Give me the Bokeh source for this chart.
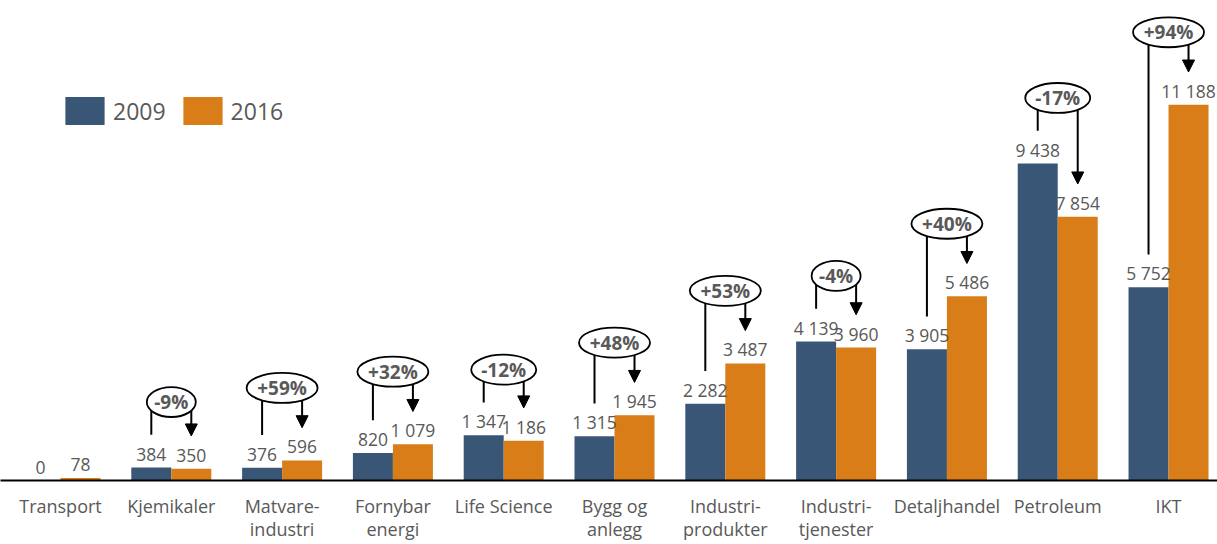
from bokeh.plotting import figure
from bokeh.models import (ColumnDataSource, FixedTicker, Arrow, NormalHead, Legend, LegendItem,
                          Range1d, LabelSet)
from bokeh.embed import file_html
from bokeh.resources import INLINE
from bokeh.core.properties import value

# ---------------- data ----------------
categories = ["Transport", "Kjemikaler", "Matvare-\nindustri", "Fornybar\nenergi", "Life Science",
              "Bygg og\nanlegg", "Industri-\nprodukter", "Industri-\ntjenester", "Detaljhandel",
              "Petroleum", "IKT"]
series = ["2009", "2016"]
values_2009 = [0, 384, 376, 820, 1347, 1315, 2282, 4139, 3905, 9438, 5752]
values_2016 = [78, 350, 596, 1079, 1186, 1945, 3487, 3960, 5486, 7854, 11188]
change_labels = ["", "-9%", "+59%", "+32%", "-12%", "+48%", "+53%", "-4%", "+40%", "-17%", "+94%"]

# ---------------- style ----------------
BLUE = "#3A5676"
ORANGE = "#D87D18"
GREY = "#595959"
FONT = "Open Sans"

W, H = 1217, 544
FRAME_H = 483
Y_END = 14294
PPU = FRAME_H / Y_END          # pixels per data unit
BAR_W = 0.361
OFF = BAR_W / 2

n = len(categories)
xs = list(range(n))

def fmt(v):
    return f"{v:,}".replace(",", " ")

p = figure(width=W, height=H, output_backend="svg", toolbar_location=None,
           x_range=Range1d(-0.5415, 10.442), y_range=Range1d(0, Y_END),
           y_axis_location=None, min_border_left=0, min_border_right=0,
           min_border_top=0, min_border_bottom=H - FRAME_H)
p.outline_line_color = None
p.xgrid.visible = False
p.ygrid.visible = False
p.background_fill_color = "white"

src = ColumnDataSource(dict(
    x09=[x - OFF for x in xs], x16=[x + OFF for x in xs],
    v09=values_2009, v16=values_2016,
    t09=[fmt(v) for v in values_2009], t16=[fmt(v) for v in values_2016],
))

r09 = p.vbar(x="x09", top="v09", width=BAR_W, source=src, fill_color=BLUE, line_color=None)
r16 = p.vbar(x="x16", top="v16", width=BAR_W, source=src, fill_color=ORANGE, line_color=None)

for col_x, col_y, col_t in (("x09", "v09", "t09"), ("x16", "v16", "t16")):
    p.add_layout(LabelSet(x=col_x, y=col_y, text=col_t, source=src, text_align="center",
                          text_baseline="alphabetic", y_offset=7, text_font=value(FONT),
                          text_font_size=value("17.5px"), text_color=value(GREY)))

# ---------------- change bubbles ----------------
ann = [i for i in xs if change_labels[i]]
bub_y, line_x, line_y0, arr_x, arr_y1, bub_w, labels, bub_x = [], [], [], [], [], [], [], []
for i in ann:
    a, b = values_2009[i], values_2016[i]
    lift = 73 if b > a else 66
    cy = max(a, b) + lift / PPU
    bub_x.append(i)
    bub_y.append(cy)
    line_x.append(i - OFF)
    line_y0.append(a + 33 / PPU)
    arr_x.append(i + OFF)
    arr_y1.append(b + 33 / PPU)
    lab = change_labels[i]
    labels.append(lab)
    bub_w.append(49 if len(lab) == 3 else (71 if lab.startswith("+") else 65))

asrc = ColumnDataSource(dict(bx=bub_x, by=bub_y, lx=line_x, ly0=line_y0,
                             ax=arr_x, ay1=arr_y1, bw=bub_w, lab=labels))

p.segment(x0="lx", y0="ly0", x1="lx", y1="by", source=asrc, line_color="black", line_width=2)
p.add_layout(Arrow(end=NormalHead(size=12, fill_color="black", line_color="black", line_width=1),
                   x_start="ax", y_start="by", x_end="ax", y_end="ay1", source=asrc,
                   line_color="black", line_width=2, level="underlay"))
p.ellipse(x="bx", y="by", width="bw", height=30, width_units="screen", height_units="screen",
          source=asrc, fill_color="white", line_color="black", line_width=1.8)
p.text(x="bx", y="by", text="lab", source=asrc, text_align="center", text_baseline="middle",
       text_font=value(FONT), text_font_size="19px", text_font_style="bold", text_color=GREY)

# ---------------- axis ----------------
ax = p.xaxis[0]
ax.ticker = FixedTicker(ticks=xs)
ax.major_label_overrides = {i: c for i, c in enumerate(categories)}
ax.major_label_text_font = FONT
ax.major_label_text_font_size = "18px"
ax.major_label_text_line_height = 0.98
ax.major_label_text_color = GREY
ax.major_tick_line_color = None
ax.minor_tick_line_color = None
ax.major_tick_out = 0
ax.major_tick_in = 0
ax.major_label_standoff = 13
ax.axis_line_color = "black"
ax.axis_line_width = 2

# ---------------- legend ----------------
legend = Legend(items=[LegendItem(label=series[0], renderers=[r09]),
                       LegendItem(label=series[1], renderers=[r16])],
                location=(60, 352), orientation="horizontal",
                glyph_width=49, glyph_height=35, label_height=35, label_standoff=4,
                spacing=12, padding=0, margin=0, border_line_color=None,
                background_fill_alpha=0, label_text_font=FONT, label_text_font_size="23px",
                label_text_color=GREY)
p.add_layout(legend, "center")

open("out.html", "w").write(file_html(p, INLINE))
